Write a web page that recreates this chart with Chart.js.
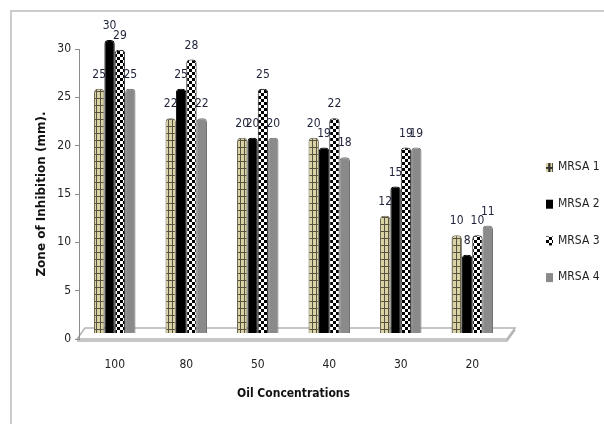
<!DOCTYPE html>
<html>
<head>
<meta charset="utf-8">
<script src="https://cdn.jsdelivr.net/npm/chart.js@4.4.1/dist/chart.umd.min.js"></script>
<style>
  html, body { margin: 0; padding: 0; background: #fff; }
  canvas { display: block; }
</style>
</head>
<body>
<canvas id="chart" width="604" height="424"></canvas>
<script>
// ============================
// Data
// ============================
const concentrations = ["100", "80", "50", "40", "30", "20"];
const mrsa1 = [25, 22, 20, 20, 12, 10];
const mrsa2 = [30, 25, 20, 19, 15, 8];
const mrsa3 = [29, 28, 25, 22, 19, 10];
const mrsa4 = [25, 22, 20, 18, 19, 11];
const seriesNames = ["MRSA 1", "MRSA 2", "MRSA 3", "MRSA 4"];
const yTickValues = [0, 5, 10, 15, 20, 25, 30];

const NARROW = "'Liberation Sans Narrow', 'DejaVu Sans Condensed', sans-serif";

const canvas = document.getElementById("chart");
const ctx = canvas.getContext("2d");

// ============================
// Fill patterns (Excel style)
// ============================
function makePattern(kind) {
    const c = document.createElement("canvas");
    const g = c.getContext("2d");
    if (kind === "grid") {
        c.width = 4; c.height = 7;
        g.fillStyle = "#d9d3a5";
        g.fillRect(0, 0, 4, 7);
        g.fillStyle = "#56523f";
        g.fillRect(0, 0, 1, 7);
        g.fillRect(0, 0, 4, 1);
    } else {
        c.width = 6; c.height = 6;
        g.fillStyle = "#ffffff";
        g.fillRect(0, 0, 6, 6);
        g.fillStyle = "#000000";
        g.fillRect(0, 0, 3, 3);
        g.fillRect(3, 3, 3, 3);
    }
    return ctx.createPattern(c, "repeat");
}

const gridPattern = makePattern("grid");
const checkPattern = makePattern("check");

const fills = [gridPattern, "#000000", checkPattern, "#8a8a8a"];
const borders = ["#6b6650", "#000000", "#222222", "#707070"];
const seriesData = [mrsa1, mrsa2, mrsa3, mrsa4];

// ============================
// Plugins: frame, floor, labels, legend
// ============================
const decorPlugin = {
    id: "decor",
    beforeDraw(chart) {
        const c = chart.ctx;
        const a = chart.chartArea;
        c.save();
        // outer frame (top + left)
        c.strokeStyle = "#cccccc";
        c.lineWidth = 2;
        c.beginPath();
        c.moveTo(11, chart.height);
        c.lineTo(11, 11);
        c.lineTo(chart.width, 11);
        c.stroke();
        // 3D floor
        const b = a.bottom;
        c.strokeStyle = "#b4b4b4";
        c.lineWidth = 1.5;
        c.fillStyle = "#ffffff";
        c.beginPath();
        c.moveTo(a.left - 2, b);
        c.lineTo(a.left + 6, b - 11);
        c.lineTo(a.right + 7, b - 11);
        c.lineTo(a.right - 1, b);
        c.closePath();
        c.fill();
        c.stroke();
        c.beginPath();
        c.moveTo(a.left - 2, b + 2);
        c.lineTo(a.right - 1, b + 2);
        c.lineTo(a.right + 7, b - 9);
        c.stroke();
        c.restore();
    },
    afterDatasetsDraw(chart) {
        const c = chart.ctx;
        c.save();
        c.font = "12px " + NARROW;
        c.fillStyle = "#1e2238";
        c.textAlign = "center";
        c.textBaseline = "middle";
        chart.data.datasets.forEach((ds, di) => {
            chart.getDatasetMeta(di).data.forEach((bar, i) => {
                c.fillText(String(ds.data[i]), bar.x, bar.y - 14);
            });
        });
        c.restore();
    },
    afterDraw(chart) {
        const c = chart.ctx;
        const legendX = 546;
        const legendY = 167;
        const gap = 36.7;
        c.save();
        c.font = "12px " + NARROW;
        c.textBaseline = "middle";
        c.textAlign = "left";
        seriesNames.forEach((name, i) => {
            const y = legendY + i * gap;
            c.fillStyle = fills[i];
            c.fillRect(legendX, y - 4, 7, 9);
            if (i === 0) {
                c.fillStyle = "#333";
                c.fillRect(legendX + 3, y - 4, 1.5, 9);
                c.fillRect(legendX, y, 7, 1.5);
            }
            c.fillStyle = "#222";
            c.fillText(name, legendX + 12, y);
        });
        c.restore();
    }
};

// ============================
// Chart
// ============================
const datasets = seriesData.map((values, i) => ({
    label: seriesNames[i],
    data: values,
    backgroundColor: fills[i],
    borderColor: borders[i],
    borderWidth: 1,
    borderSkipped: "bottom",
    borderRadius: { topLeft: 4, topRight: 4 },
    yAxisID: "yb",
    categoryPercentage: 0.58,
    barPercentage: 1.0,
    clip: false
}));

new Chart(ctx, {
    type: "bar",
    data: { labels: concentrations, datasets: datasets },
    options: {
        responsive: false,
        animation: false,
        layout: { padding: { top: 49, right: 96, left: 0, bottom: 0 } },
        plugins: {
            legend: { display: false },
            tooltip: { enabled: false }
        },
        scales: {
            x: {
                grid: { display: false, drawTicks: false },
                border: { display: false },
                ticks: {
                    padding: 19,
                    color: "#222",
                    font: { family: NARROW, size: 12 }
                },
                title: {
                    display: true,
                    text: "Oil Concentrations",
                    color: "#111",
                    font: { family: NARROW, size: 12, weight: "bold" },
                    padding: { top: 4, bottom: 23 }
                },
                afterFit(scale) { scale.height = 85; }
            },
            y: {
                min: 0,
                max: 30,
                afterBuildTicks(scale) { scale.ticks = yTickValues.map(v => ({ value: v })); },
                grid: { drawOnChartArea: false, tickLength: 4, color: "#8c8c8c" },
                border: { display: true, color: "#8c8c8c" },
                ticks: {
                    padding: 4,
                    color: "#222",
                    font: { family: NARROW, size: 12 }
                },
                title: {
                    display: true,
                    text: "Zone of Inhibition (mm).",
                    color: "#111",
                    font: { family: "'DejaVu Sans', sans-serif", size: 12, weight: "bold" },
                    padding: { top: 35, bottom: 0 }
                },
                afterFit(scale) { scale.width = 79; }
            },
            // bars sit slightly back from the axis (3D depth)
            yb: {
                display: false,
                min: -0.614,
                max: 29.078
            }
        }
    },
    plugins: [decorPlugin]
});
</script>
</body>
</html>
